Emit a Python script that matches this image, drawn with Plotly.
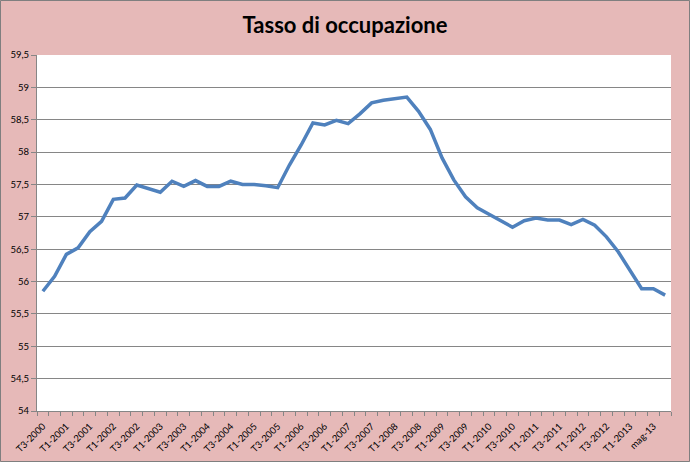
import plotly.graph_objects as go

# Category labels (quarters, then months at the end)
categories = []
categories += ["T3-2000", "T4-2000"]
for yr in range(2001, 2013):
    categories += [f"T1-{yr}", f"T2-{yr}", f"T3-{yr}", f"T4-{yr}"]
categories += ["T1-2013", "apr-13", "mag-13", "giu-13"]

# Employment rate values
tasso = [
    55.85, 56.08, 56.42, 56.52, 56.77, 56.93, 57.27, 57.29, 57.49, 57.43,
    57.38, 57.55, 57.47, 57.56, 57.47, 57.47, 57.55, 57.50, 57.50, 57.48,
    57.45, 57.80, 58.11, 58.45, 58.42, 58.49, 58.44, 58.59, 58.76, 58.80,
    58.83, 58.85, 58.63, 58.35, 57.91, 57.57, 57.31, 57.14, 57.04, 56.94,
    56.84, 56.94, 56.98, 56.95, 56.95, 56.88, 56.96, 56.87, 56.69, 56.46,
    56.17, 55.89, 55.89, 55.79,
]

title_text = "Tasso di occupazione"
y_range = [54, 59.5]

tick_text = [c if i % 2 == 0 else "" for i, c in enumerate(categories)]

W, H = 690, 462
ML, MR, MT, MB = 37, 19, 55, 51
pw, ph = W - ML - MR, H - MT - MB

fig = go.Figure()
fig.add_trace(go.Scatter(
    x=categories, y=tasso, mode="lines",
    line=dict(color="#4F81BD", width=3.5),
    hoverinfo="x+y", showlegend=False,
))

fig.update_layout(
    width=W, height=H,
    margin=dict(l=ML, r=MR, t=MT, b=MB, autoexpand=False),
    paper_bgcolor="#E6B9B8",
    plot_bgcolor="#FFFFFF",
    separators=",.",
    font=dict(family="Lato, 'Open Sans', sans-serif", color="#000000"),
    title=dict(
        text="<b>" + title_text + "</b>",
        x=0.5, xanchor="center", xref="container",
        y=1 - 25 / H, yanchor="middle", yref="container",
        font=dict(size=22, color="#000000"),
    ),
    xaxis=dict(
        type="category",
        tickmode="array", tickvals=categories, ticktext=tick_text,
        tickson="boundaries", ticks="outside", ticklen=4,
        tickcolor="#868686", tickwidth=1,
        tickangle=-45, tickfont=dict(size=9.5),
        ticklabelstandoff=5,
        showline=True, linecolor="#868686", linewidth=1,
        showgrid=False, zeroline=False, automargin=False,
        range=[-0.5, len(categories) - 0.5],
    ),
    yaxis=dict(
        range=y_range, dtick=0.5, tick0=54,
        ticks="outside", ticklen=5, tickcolor="#868686",
        tickfont=dict(size=9.5),
        showline=True, linecolor="#868686", linewidth=1,
        showgrid=True, gridcolor="#868686", gridwidth=1,
        zeroline=False, automargin=False,
    ),
    shapes=[dict(
        type="rect", xref="paper", yref="paper",
        x0=-(ML - 0.5) / pw, x1=1 + (MR - 0.5) / pw,
        y0=-(MB - 0.5) / ph, y1=1 + (MT - 0.5) / ph,
        line=dict(color="#7F7F7F", width=1), layer="above",
    )],
)

fig.write_html(
    "out.html",
    config={"displayModeBar": False},
    post_script="document.body.style.margin='0';document.body.style.padding='0';",
)
